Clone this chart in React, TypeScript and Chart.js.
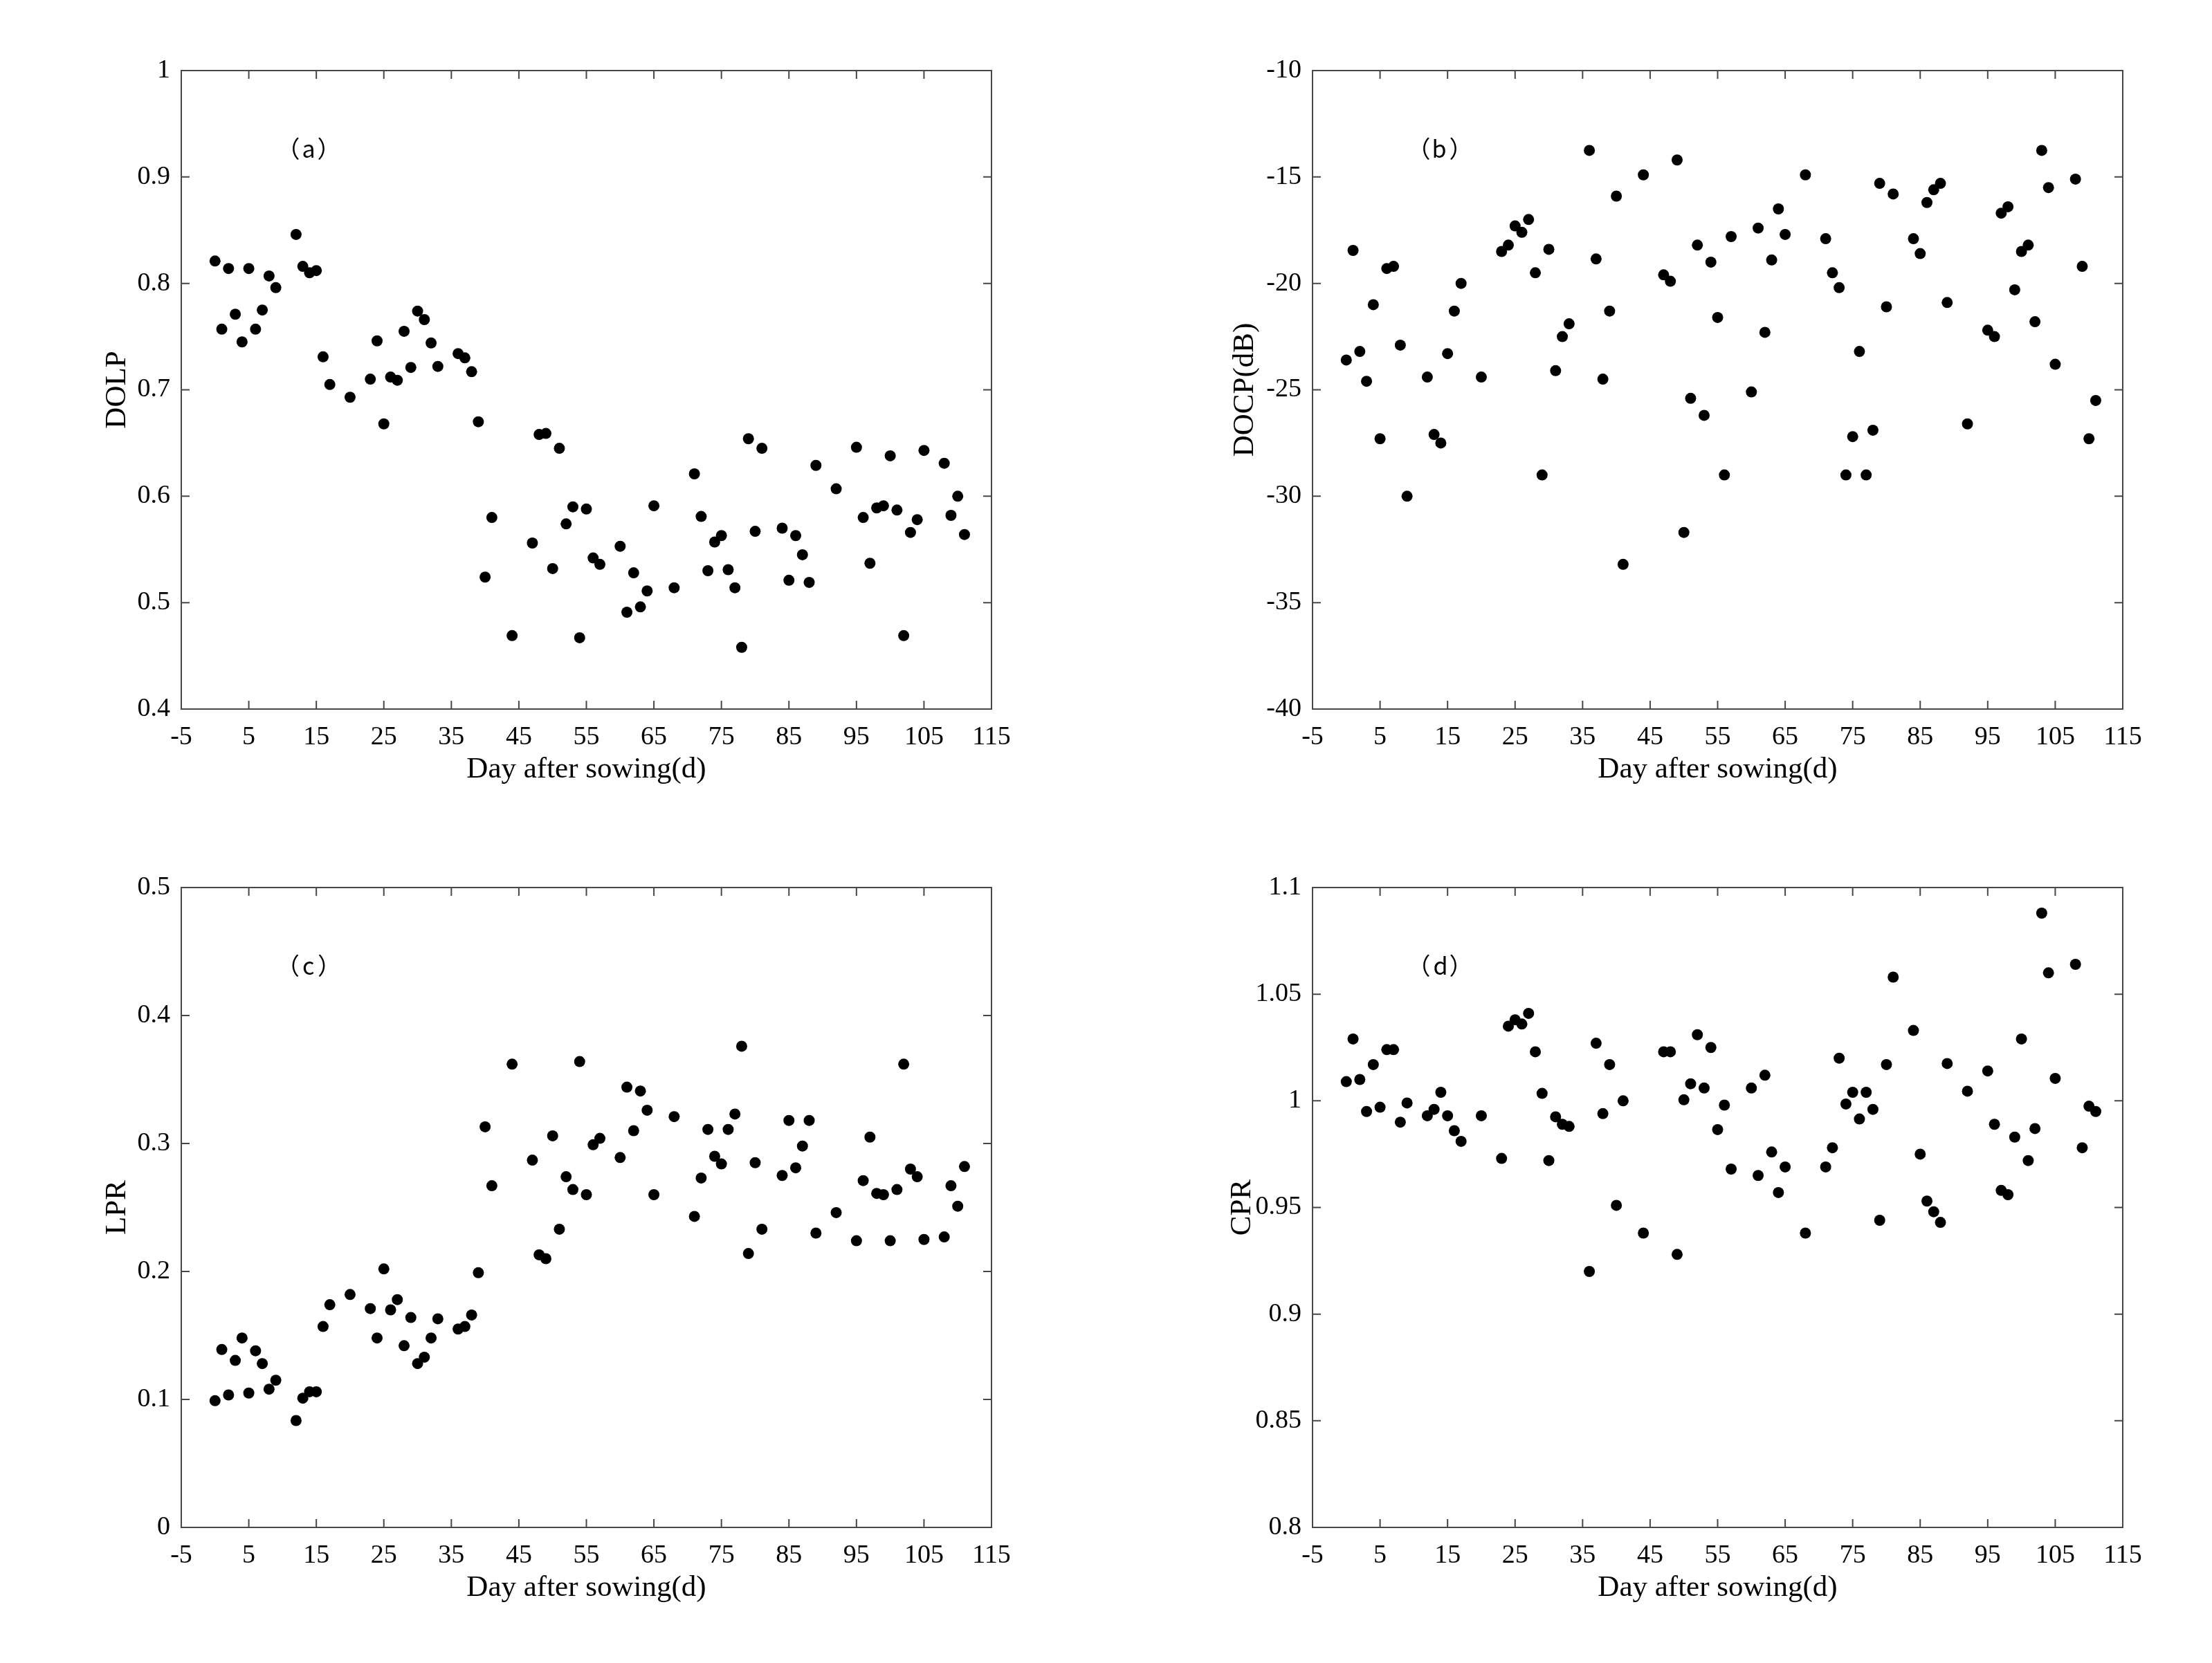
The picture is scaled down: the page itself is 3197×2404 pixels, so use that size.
import React, { useEffect, useRef } from "react";
import { Chart, registerables } from "chart.js";

Chart.register(...registerables);

const days = [0,1,2,3,4,5,6,7,8,9,12,13,14,15,16,17,20,23,24,25,26,27,28,29,30,31,32,33,36,37,38,39,40,41,44,47,48,49,50,51,52,53,54,55,56,57,60,61,62,63,64,65,68,71,72,73,74,75,76,77,78,79,80,81,84,85,86,87,88,89,92,95,96,97,98,99,100,101,102,103,104,105,108,109,110,111];

const dolp = [0.821,0.757,0.814,0.771,0.745,0.814,0.757,0.775,0.807,0.796,
0.846,0.816,0.810,0.812,0.731,0.705,
0.693,
0.710,0.746,0.668,0.712,0.709,0.755,0.721,0.774,0.766,0.744,0.722,
0.734,0.730,0.717,0.670,0.524,0.580,
0.469,
0.556,0.658,0.659,0.532,0.645,0.574,0.590,0.467,0.588,0.542,0.536,
0.553,0.491,0.528,0.496,0.511,0.591,
0.514,
0.621,0.581,0.530,0.557,0.563,0.531,0.514,0.458,0.654,0.567,0.645,
0.570,0.521,0.563,0.545,0.519,0.629,
0.607,
0.646,0.580,0.537,0.589,0.591,0.638,0.587,0.469,0.566,0.578,0.643,
0.631,0.582,0.600,0.564];

const docp = [-23.6,-18.45,-23.2,-24.6,-21.0,-27.3,-19.3,-19.2,-22.9,-30.0,
-24.4,-27.1,-27.5,-23.3,-21.3,-20.0,
-24.4,
-18.5,-18.2,-17.3,-17.6,-17.0,-19.5,-29.0,-18.4,-24.1,-22.5,-21.9,
-13.75,-18.85,-24.5,-21.3,-15.9,-33.2,
-14.9,
-19.6,-19.9,-14.2,-31.7,-25.4,-18.2,-26.2,-19.0,-21.6,-29.0,-17.8,
-25.1,-17.4,-22.3,-18.9,-16.5,-17.7,
-14.9,
-17.9,-19.5,-20.2,-29.0,-27.2,-23.2,-29.0,-26.9,-15.3,-21.1,-15.8,
-17.9,-18.6,-16.2,-15.6,-15.3,-20.9,
-26.6,
-22.2,-22.5,-16.7,-16.4,-20.3,-18.5,-18.2,-21.8,-13.75,-15.5,-23.8,
-15.1,-19.2,-27.3,-25.5];

const lpr = [0.099,0.139,0.1035,0.1305,0.148,0.105,0.138,0.128,0.108,0.115,
0.0835,0.101,0.106,0.106,0.157,0.174,
0.182,
0.171,0.148,0.202,0.170,0.178,0.142,0.164,0.128,0.133,0.148,0.163,
0.155,0.157,0.166,0.199,0.313,0.267,
0.362,
0.287,0.213,0.210,0.306,0.233,0.274,0.264,0.364,0.260,0.299,0.304,
0.289,0.344,0.310,0.341,0.326,0.260,
0.321,
0.243,0.273,0.311,0.290,0.284,0.311,0.323,0.376,0.214,0.285,0.233,
0.275,0.318,0.281,0.298,0.318,0.230,
0.246,
0.224,0.271,0.305,0.261,0.260,0.224,0.264,0.362,0.280,0.274,0.225,
0.227,0.267,0.251,0.282];

const cpr = [1.009,1.029,1.010,0.995,1.017,0.997,1.024,1.024,0.990,0.999,
0.993,0.996,1.004,0.993,0.986,0.981,
0.993,
0.973,1.035,1.038,1.036,1.041,1.023,1.0035,0.972,0.9925,0.989,0.988,
0.920,1.027,0.994,1.017,0.951,1.000,
0.938,
1.023,1.023,0.928,1.0005,1.008,1.031,1.006,1.025,0.9865,0.998,0.968,
1.006,0.965,1.012,0.976,0.957,0.969,
0.938,
0.969,0.978,1.020,0.9985,1.004,0.9915,1.004,0.996,0.944,1.017,1.058,
1.033,0.975,0.953,0.948,0.943,1.0175,
1.0045,
1.014,0.989,0.958,0.956,0.983,1.029,0.972,0.987,1.088,1.060,1.0105,
1.064,0.978,0.9975,0.995];

const xTicks = [-5,5,15,25,35,45,55,65,75,85,95,105,115];
const dolpTicks = [0.4,0.5,0.6,0.7,0.8,0.9,1];
const docpTicks = [-40,-35,-30,-25,-20,-15,-10];
const lprTicks = [0,0.1,0.2,0.3,0.4,0.5];
const cprTicks = [0.8,0.85,0.9,0.95,1,1.05,1.1];

const xTitle = "Day after sowing(d)";
const SERIF = "'Times New Roman', 'Liberation Serif', serif";
const SANS = "'Noto Sans CJK SC', 'Noto Sans', sans-serif";

type PanelDef = {
  box: { x: number; y: number; w: number; h: number };
  area: { l: number; t: number; r: number; b: number };
  yTitleX: number;
  yTitle: string;
  letter: string;
  values: number[];
  yTicks: number[];
};

const panels: PanelDef[] = [
  { box: { x: 0, y: 0, w: 1598, h: 1202 }, area: { l: 262, t: 102, r: 1433, b: 1025 }, yTitleX: 170, yTitle: "DOLP", letter: "a", values: dolp, yTicks: dolpTicks },
  { box: { x: 1598, y: 0, w: 1599, h: 1202 }, area: { l: 1897, t: 102, r: 3068, b: 1025 }, yTitleX: 1800, yTitle: "DOCP(dB)", letter: "b", values: docp, yTicks: docpTicks },
  { box: { x: 0, y: 1202, w: 1598, h: 1202 }, area: { l: 262, t: 1283, r: 1433, b: 2208 }, yTitleX: 170, yTitle: "LPR", letter: "c", values: lpr, yTicks: lprTicks },
  { box: { x: 1598, y: 1202, w: 1599, h: 1202 }, area: { l: 1897, t: 1283, r: 3068, b: 2208 }, yTitleX: 1796, yTitle: "CPR", letter: "d", values: cpr, yTicks: cprTicks },
];

const TICK_FONT = 38;
const TITLE_FONT = 43;
const TITLE_LH = TITLE_FONT * 1.2;

function Panel({ def }: { def: PanelDef }) {
  const ref = useRef<HTMLCanvasElement | null>(null);
  useEffect(() => {
    if (!ref.current) return;
    const { box, area } = def;
    const yWidth = area.l - box.x;
    const xHeight = box.y + box.h - area.b;
    const padTop = area.t - box.y;
    const padRight = box.x + box.w - area.r;
    const yTitlePad = def.yTitleX - box.x - TITLE_LH / 2;
    // x title baseline ~102px below the axis
    const titleCenter = area.b + 102 - TITLE_FONT * 0.3375;
    const xTitlePad = box.y + box.h - titleCenter - TITLE_LH / 2;

    const frame = {
      id: "frame",
      afterDraw(chart: any) {
        const { ctx, chartArea } = chart;
        const { left, top, right, bottom } = chartArea;
        const xs = chart.scales.x;
        const ys = chart.scales.y;
        ctx.save();
        ctx.strokeStyle = "#474747";
        ctx.lineWidth = 2;
        ctx.strokeRect(left, top, right - left, bottom - top);
        const tl = 12;
        ctx.beginPath();
        xTicks.forEach((v) => {
          const px = xs.getPixelForValue(v);
          ctx.moveTo(px, bottom);
          ctx.lineTo(px, bottom - tl);
          ctx.moveTo(px, top);
          ctx.lineTo(px, top + tl);
        });
        def.yTicks.forEach((v) => {
          const py = ys.getPixelForValue(v);
          ctx.moveTo(left, py);
          ctx.lineTo(left + tl, py);
          ctx.moveTo(right, py);
          ctx.lineTo(right - tl, py);
        });
        ctx.stroke();

        // panel label "（x）", pieces placed by ink bounds
        ctx.fillStyle = "#000";
        ctx.font = `34px ${SANS}`;
        ctx.textBaseline = "middle";
        ctx.textAlign = "left";
        const cx = left + 184;
        const cy = top + 113;
        const gap = 6;
        const mA = ctx.measureText(def.letter);
        const aInkW = mA.actualBoundingBoxLeft + mA.actualBoundingBoxRight;
        const aLeft = cx - aInkW / 2;
        ctx.fillText(def.letter, aLeft + mA.actualBoundingBoxLeft, cy);
        const mL = ctx.measureText("（");
        const lInkRightTarget = aLeft - gap;
        ctx.fillText("（", lInkRightTarget - mL.actualBoundingBoxRight, cy);
        const mR = ctx.measureText("）");
        const rInkLeftTarget = aLeft + aInkW + gap;
        ctx.fillText("）", rInkLeftTarget + mR.actualBoundingBoxLeft, cy);
        ctx.restore();
      },
    };

    const chart = new Chart(ref.current, {
      type: "scatter",
      data: {
        datasets: [
          {
            data: days.map((d, i) => ({ x: d, y: def.values[i] })),
            backgroundColor: "#000",
            borderColor: "#000",
            borderWidth: 0,
            pointRadius: 8,
            pointHoverRadius: 8,
          },
        ],
      },
      options: {
        animation: false,
        responsive: false,
        devicePixelRatio: 1,
        events: [],
        layout: { padding: { left: 0, top: padTop, right: padRight, bottom: 0 } },
        plugins: { legend: { display: false }, tooltip: { enabled: false } },
        scales: {
          x: {
            type: "linear",
            min: -5,
            max: 115,
            afterBuildTicks: (s: any) => {
              s.ticks = xTicks.map((v) => ({ value: v }));
            },
            afterFit: (s: any) => {
              s.height = xHeight;
            },
            grid: { display: false, drawTicks: false },
            border: { display: false },
            ticks: {
              autoSkip: false,
              maxRotation: 0,
              padding: 18,
              color: "#000",
              font: { family: SERIF, size: TICK_FONT },
              callback: (v: any) => String(v),
            },
            title: {
              display: true,
              text: xTitle,
              color: "#000",
              font: { family: SERIF, size: TITLE_FONT },
              padding: { top: 0, bottom: xTitlePad },
            },
          },
          y: {
            type: "linear",
            min: def.yTicks[0],
            max: def.yTicks[def.yTicks.length - 1],
            afterBuildTicks: (s: any) => {
              s.ticks = def.yTicks.map((v) => ({ value: v }));
            },
            afterFit: (s: any) => {
              s.width = yWidth;
            },
            grid: { display: false, drawTicks: false },
            border: { display: false },
            ticks: {
              autoSkip: false,
              padding: 16,
              color: "#000",
              font: { family: SERIF, size: TICK_FONT },
              callback: (v: any) => String(Number(Number(v).toFixed(3))),
            },
            title: {
              display: true,
              text: def.yTitle,
              color: "#000",
              font: { family: SERIF, size: TITLE_FONT },
              padding: { top: yTitlePad, bottom: 0 },
            },
          },
        },
      },
      plugins: [frame],
    } as any);
    return () => chart.destroy();
  }, [def]);

  return (
    <canvas
      ref={ref}
      width={def.box.w}
      height={def.box.h}
      style={{ position: "absolute", left: def.box.x, top: def.box.y, width: def.box.w, height: def.box.h }}
    />
  );
}

export default function App() {
  return (
    <div style={{ position: "absolute", left: 0, top: 0, width: 3197, height: 2404, background: "#fff", overflow: "hidden" }}>
      {panels.map((p, i) => (
        <Panel key={i} def={p} />
      ))}
    </div>
  );
}
